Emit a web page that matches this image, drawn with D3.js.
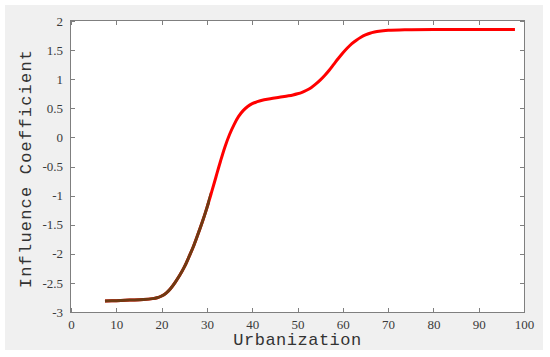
<!DOCTYPE html>
<html lang="en">
<head>
<meta charset="utf-8">
<title>Influence Coefficient</title>
<script src="https://d3js.org/d3.v7.min.js"></script>
<style>
  body { margin: 0; background: #fff; }
  .tick text { font-family: "Liberation Serif", serif; font-size: 13px; fill: #3a3a3a; }
  .axis path, .axis line { stroke: #7f7f7f; stroke-width: 1; shape-rendering: crispEdges; }
  .lbl { font-family: "Liberation Mono", monospace; font-size: 17px; fill: #333; }
</style>
</head>
<body>
<script>
// curve
var urbanization = [7.5, 10, 13, 16, 18, 19, 20, 21, 22, 23, 24, 25, 26, 27, 28, 29, 30, 31, 32, 33, 34, 35, 36, 37, 38, 39, 40, 41, 42, 44, 46, 48, 49, 50, 51, 52, 53, 54, 55, 56, 57, 58, 59, 60, 61, 62, 63, 64, 65, 66, 67, 68, 70, 74, 80, 90, 98];
var coefficient  = [-2.81, -2.805, -2.795, -2.785, -2.77, -2.755, -2.725, -2.675, -2.595, -2.49, -2.37, -2.23, -2.06, -1.88, -1.67, -1.45, -1.21, -0.95, -0.68, -0.41, -0.16, 0.05, 0.22, 0.36, 0.46, 0.53, 0.58, 0.61, 0.635, 0.665, 0.69, 0.715, 0.73, 0.75, 0.775, 0.81, 0.855, 0.915, 0.985, 1.065, 1.155, 1.255, 1.355, 1.45, 1.535, 1.61, 1.67, 1.72, 1.76, 1.79, 1.81, 1.825, 1.84, 1.85, 1.855, 1.855, 1.855];
var brownUntil = 30.7;   // darker overlay part of the line
var xTicks = [0, 10, 20, 30, 40, 50, 60, 70, 80, 90, 100];
var yTicks = [-3, -2.5, -2, -1.5, -1, -0.5, 0, 0.5, 1, 1.5, 2];

var w = 550, h = 357;
var pLeft = 71, pRight = 524, pTop = 21, pBottom = 312;

var svg = d3.select("body").append("svg")
    .attr("width", w)
    .attr("height", h);

svg.append("rect")
    .attr("x", 5).attr("y", 5)
    .attr("width", 538).attr("height", 345)
    .attr("fill", "#f0f0f0");

svg.append("rect")
    .attr("x", pLeft).attr("y", pTop)
    .attr("width", pRight - pLeft).attr("height", pBottom - pTop)
    .attr("fill", "#fff");

var xScale = d3.scaleLinear().domain([0, 100]).range([pLeft, pRight]);
var yScale = d3.scaleLinear().domain([-3, 2]).range([pBottom, pTop]);

function fmt(d) { return String(d); }

svg.append("g").attr("class", "axis")
    .attr("transform", "translate(0," + pBottom + ")")
    .call(d3.axisBottom(xScale).tickValues(xTicks).tickSize(-4).tickPadding(8).tickFormat(fmt));
svg.append("g").attr("class", "axis")
    .attr("transform", "translate(0," + pTop + ")")
    .call(d3.axisTop(xScale).tickValues(xTicks).tickSize(-4).tickFormat(""));
svg.append("g").attr("class", "axis")
    .attr("transform", "translate(" + pLeft + ",0)")
    .call(d3.axisLeft(yScale).tickValues(yTicks).tickSize(-4).tickPadding(8).tickFormat(fmt));
svg.append("g").attr("class", "axis")
    .attr("transform", "translate(" + pRight + ",0)")
    .call(d3.axisRight(yScale).tickValues(yTicks).tickSize(-4).tickFormat(""));

svg.selectAll(".axis .domain").remove();
svg.append("rect")
    .attr("x", pLeft - 0.5).attr("y", pTop - 0.5)
    .attr("width", pRight - pLeft + 1).attr("height", pBottom - pTop + 1)
    .attr("fill", "none").attr("stroke", "#7f7f7f");

var pts = urbanization.map(function(d, i) { return [d, coefficient[i]]; });

var line = d3.line()
    .curve(d3.curveCatmullRom)
    .x(function(d) { return xScale(d[0]); })
    .y(function(d) { return yScale(d[1]); });

svg.append("path")
    .datum(pts)
    .attr("d", line)
    .attr("fill", "none")
    .attr("stroke", "#ff0000")
    .attr("stroke-width", 3);

svg.append("clipPath").attr("id", "brownclip")
    .append("rect")
    .attr("x", 0).attr("y", 0)
    .attr("width", xScale(brownUntil)).attr("height", h);

svg.append("path")
    .datum(pts)
    .attr("d", line)
    .attr("clip-path", "url(#brownclip)")
    .attr("fill", "none")
    .attr("stroke", "#6e3a12")
    .attr("stroke-width", 3);

svg.append("text")
    .attr("class", "lbl")
    .attr("x", (pLeft + pRight) / 2)
    .attr("y", 345)
    .attr("text-anchor", "middle")
    .attr("letter-spacing", 0.5)
    .text("Urbanization");

svg.append("text")
    .attr("class", "lbl")
    .attr("transform", "translate(31," + ((pTop + pBottom) / 2 + 2) + ") rotate(-90)")
    .attr("text-anchor", "middle")
    .attr("letter-spacing", 1.2)
    .text("Influence Coefficient");
</script>
</body>
</html>
